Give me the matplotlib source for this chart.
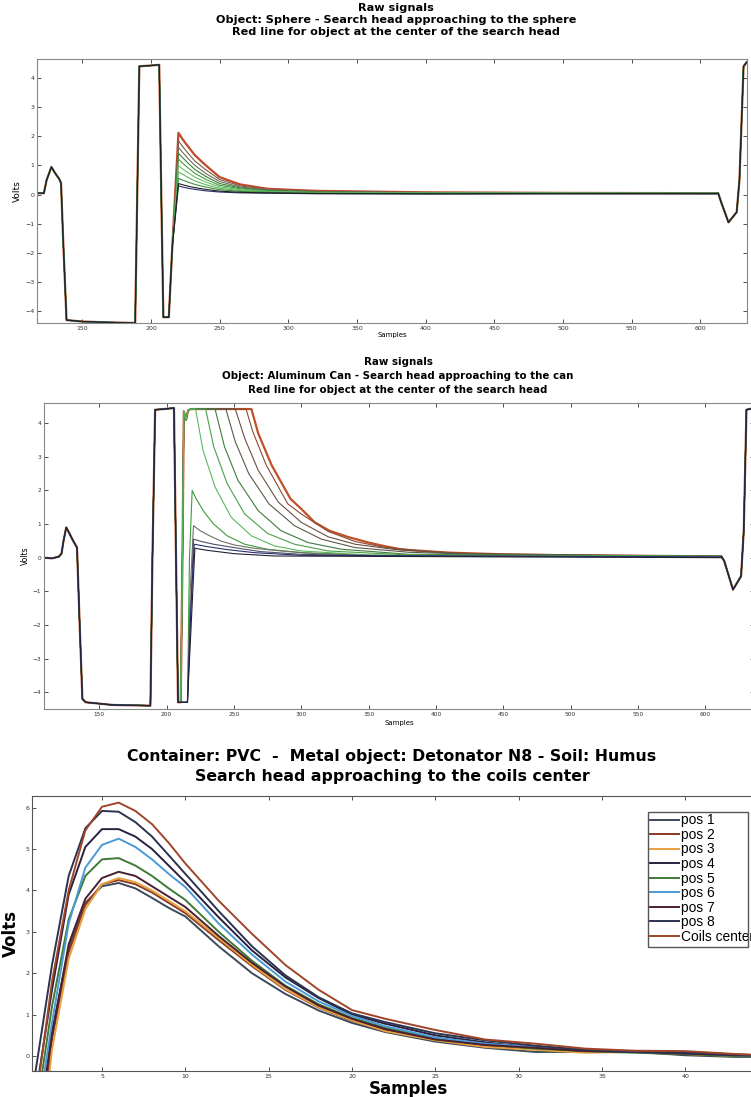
import matplotlib
matplotlib.use("Agg")
import matplotlib.pyplot as plt
from matplotlib.patches import Rectangle

# ---------- top panel: sphere ----------
top_head_x = [117, 122, 124, 127.5, 130, 133, 134.5, 136, 138.5, 150, 170, 188.5, 190, 191.5, 198, 206, 207.5, 209, 213]
top_head_y = [0.05, 0.05, 0.5, 0.95, 0.75, 0.55, 0.4, -1.5, -4.3, -4.35, -4.38, -4.4, 0.0, 4.4, 4.42, 4.45, 0.0, -4.2, -4.2]
top_tail_x = [215.5, 220, 223, 227, 232, 240, 250, 265, 285, 320, 400, 500, 612]
# listed from the highest (red, object at the centre) to the lowest curve
top_tails = [
    [-1.8, 2.12, 1.90, 1.65, 1.35, 1.00, 0.60, 0.35, 0.20, 0.13, 0.08, 0.06, 0.05],
    [-1.8, 1.85, 1.65, 1.42, 1.15, 0.85, 0.52, 0.30, 0.18, 0.11, 0.07, 0.06, 0.05],
    [-1.8, 1.62, 1.45, 1.24, 1.00, 0.72, 0.45, 0.26, 0.16, 0.10, 0.07, 0.05, 0.05],
    [-1.8, 1.42, 1.27, 1.08, 0.86, 0.62, 0.38, 0.23, 0.14, 0.09, 0.06, 0.05, 0.05],
    [-1.8, 1.22, 1.08, 0.92, 0.73, 0.52, 0.32, 0.20, 0.12, 0.08, 0.06, 0.05, 0.05],
    [-1.8, 1.00, 0.88, 0.75, 0.60, 0.43, 0.27, 0.17, 0.11, 0.07, 0.05, 0.05, 0.04],
    [-1.8, 0.78, 0.70, 0.59, 0.47, 0.34, 0.22, 0.14, 0.09, 0.06, 0.05, 0.04, 0.04],
    [-1.8, 0.56, 0.50, 0.43, 0.35, 0.26, 0.17, 0.11, 0.08, 0.05, 0.04, 0.04, 0.04],
    [-1.8, 0.30, 0.26, 0.22, 0.18, 0.13, 0.09, 0.06, 0.05, 0.03, 0.02, 0.03, 0.03],
    [-1.8, 0.38, 0.34, 0.29, 0.24, 0.18, 0.12, 0.08, 0.06, 0.04, 0.03, 0.03, 0.03],
]
top_colors = ['#c04a2a', '#7a5a48', '#6e6e5e', '#3a7f3a', '#4a9a4a', '#6abf69', '#5cb85c',
              '#3f8f3f', '#28306e', '#202020']
top_end_x = [613, 615.5, 620.5, 626.5, 628.5, 631.5, 634]
top_end_y = [0.05, -0.3, -0.95, -0.6, 0.5, 4.4, 4.55]

# ---------- middle panel: aluminum can ----------
mid_head_x = [109, 115, 120, 122, 123.5, 125.5, 127.5, 130, 133.5, 135.5, 137.5, 140, 160, 188, 189.5,
              191.5, 198, 205.5, 207, 208.5, 210.5]
mid_head_y = [0.0, -0.02, 0.03, 0.12, 0.5, 0.9, 0.75, 0.55, 0.3, -2.0, -4.2, -4.3, -4.38, -4.4, 0.0,
              4.4, 4.42, 4.45, 0.0, -4.3, -4.3]
sat_x = [211.8, 212.8, 214.5, 216, 218]
sat_y = [0.0, 4.35, 4.1, 4.38, 4.42]
# (x, y, saturating?) from the red curve down to the lowest one
mid_tails = [
    ([263, 268, 278, 292, 300, 310, 321, 336, 350, 361, 375, 410, 450, 500, 612],
     [4.42, 3.7, 2.75, 1.75, 1.45, 1.05, 0.8, 0.6, 0.45, 0.35, 0.24, 0.15, 0.1, 0.07, 0.04], True),
    ([259, 264, 274, 290, 300, 320, 340, 360, 400, 450, 612],
     [4.42, 3.75, 2.75, 1.6, 1.3, 0.78, 0.48, 0.32, 0.16, 0.09, 0.04], True),
    ([251, 258, 268, 283, 300, 320, 340, 370, 420, 612], [4.42, 3.55, 2.6, 1.65, 1.05, 0.62, 0.4, 0.24, 0.12, 0.04], True),
    ([244, 251, 261, 276, 295, 315, 340, 380, 450, 612], [4.42, 3.45, 2.5, 1.6, 0.95, 0.55, 0.3, 0.16, 0.08, 0.04], True),
    ([236, 243, 253, 268, 285, 305, 330, 380, 612], [4.42, 3.3, 2.3, 1.4, 0.8, 0.45, 0.25, 0.1, 0.04], True),
    ([229, 235, 245, 258, 275, 295, 320, 380, 612], [4.42, 3.3, 2.2, 1.3, 0.72, 0.4, 0.2, 0.08, 0.04], True),
    ([221.5, 227, 236, 248, 263, 280, 300, 350, 612], [4.42, 3.2, 2.1, 1.2, 0.65, 0.35, 0.2, 0.08, 0.03], True),
    ([215.5, 217, 219, 222, 228, 235, 245, 258, 275, 300, 350, 612],
     [-4.3, 0.0, 2.0, 1.75, 1.35, 1.0, 0.65, 0.4, 0.25, 0.15, 0.07, 0.03], False),
    ([215.5, 217.5, 220, 225, 232, 240, 250, 265, 285, 310, 360, 612],
     [-4.3, -1.0, 0.95, 0.8, 0.65, 0.5, 0.38, 0.28, 0.2, 0.12, 0.06, 0.02], False),
    ([215.5, 218, 220, 226, 235, 250, 270, 300, 360, 612], [-4.3, -1.5, 0.55, 0.48, 0.4, 0.3, 0.18, 0.1, 0.04, 0.02], False),
    ([215.5, 218, 220.5, 230, 245, 265, 300, 612], [-4.3, -1.5, 0.40, 0.33, 0.24, 0.15, 0.07, 0.02], False),
    ([215.5, 218.5, 221, 230, 250, 280, 612], [-4.3, -1.8, 0.28, 0.22, 0.12, 0.05, 0.0], False),
]
mid_colors = ['#c0502a', '#8a4a30', '#6a5040', '#5a5a4a', '#3f7a3f', '#4aa04a', '#5cb85c',
              '#3f9a3f', '#707068', '#50506a', '#2a3070', '#222233']
mid_end_x = [612, 614, 620.5, 626.5, 628.5, 630.5, 636]
mid_end_y = [0.03, -0.1, -0.95, -0.55, 0.8, 4.4, 4.45]

# ---------- bottom panel: detonator ----------
bot_x = [1, 2, 3, 4, 5, 6, 7, 8, 9, 10, 12, 14, 16, 18, 20, 22, 25, 28, 31, 34, 37, 40, 43, 46]
bot_labels = ['pos 1', 'pos 2', 'pos 3', 'pos 4', 'pos 5', 'pos 6', 'pos 7', 'pos 8', 'Coils center']
bot_series = [
    [-2.5, 0.6, 2.6, 3.7, 4.1, 4.18, 4.05, 3.82, 3.58, 3.37, 2.65, 2.0, 1.5, 1.1, 0.8, 0.58, 0.35, 0.2, 0.1, 0.1, 0.1, 0.02, -0.02, -0.03],
    [-3.0, 0.4, 2.5, 3.65, 4.15, 4.25, 4.15, 3.95, 3.7, 3.45, 2.8, 2.17, 1.6, 1.17, 0.85, 0.62, 0.4, 0.25, 0.17, 0.1, 0.1, 0.08, 0.03, 0.0],
    [-3.5, 0.15, 2.35, 3.55, 4.15, 4.3, 4.2, 4.0, 3.75, 3.5, 2.85, 2.2, 1.62, 1.18, 0.86, 0.6, 0.38, 0.22, 0.15, 0.08, 0.1, 0.05, 0.0, -0.02],
    [-1.0, 1.6, 3.9, 5.05, 5.48, 5.48, 5.3, 5.0, 4.6, 4.2, 3.35, 2.55, 1.9, 1.4, 1.0, 0.78, 0.5, 0.33, 0.2, 0.13, 0.12, 0.1, 0.04, 0.0],
    [-1.5, 1.2, 3.3, 4.35, 4.75, 4.78, 4.6, 4.35, 4.05, 3.77, 3.0, 2.3, 1.7, 1.25, 0.92, 0.68, 0.42, 0.28, 0.18, 0.12, 0.08, 0.05, 0.0, -0.03],
    [-1.8, 0.8, 3.2, 4.55, 5.1, 5.25, 5.05, 4.75, 4.4, 4.08, 3.2, 2.45, 1.8, 1.32, 0.97, 0.72, 0.45, 0.3, 0.22, 0.15, 0.1, 0.07, 0.02, -0.02],
    [-2.2, 0.5, 2.7, 3.8, 4.3, 4.45, 4.35, 4.1, 3.85, 3.6, 2.9, 2.25, 1.68, 1.22, 0.9, 0.65, 0.4, 0.27, 0.2, 0.12, 0.1, 0.06, 0.02, 0.0],
    [-0.4, 2.2, 4.35, 5.5, 5.92, 5.9, 5.65, 5.3, 4.85, 4.4, 3.5, 2.65, 1.95, 1.42, 1.03, 0.82, 0.55, 0.38, 0.25, 0.15, 0.1, 0.08, 0.03, 0.0],
    [-1.2, 1.8, 4.0, 5.45, 6.02, 6.12, 5.92, 5.6, 5.15, 4.65, 3.75, 2.95, 2.2, 1.6, 1.11, 0.9, 0.63, 0.4, 0.3, 0.18, 0.13, 0.12, 0.05, 0.0],
]
bot_colors = ['#3b4a5a', '#8b3a20', '#e8a040', '#2a2040', '#3e7a35', '#4a9ad8', '#4a2030', '#2a3350', '#a0452a']

W, H = 751, 1097
fig = plt.figure(figsize=(W / 100, H / 100), dpi=100)


def fx(px):
    return px / W


def fy(py):
    return 1 - py / H


def style_axes(ax, frame_color, labelsize):
    for s in ax.spines.values():
        s.set_color(frame_color)
        s.set_linewidth(0.8)
    ax.tick_params(direction='in', length=3, width=0.6, top=True, right=True,
                   labelsize=labelsize, pad=2, colors='#333333')


# top
ax1 = fig.add_axes([fx(37), fy(323), fx(747) - fx(37), fy(59) - fy(323)])
for tail, c in zip(top_tails, top_colors):
    xs = top_head_x + top_tail_x + top_end_x
    ys = top_head_y + tail + top_end_y
    lw = 1.6 if c == '#c04a2a' else 0.8
    ax1.plot(xs, ys, color=c, lw=lw)
ax1.set_xlim(117, 634)
ax1.set_ylim(-4.4, 4.65)
ax1.set_xticks(range(150, 601, 50))
ax1.set_yticks(range(-4, 5))
style_axes(ax1, '#888888', 4.5)
ax1.set_ylabel('Volts', fontsize=6.5, labelpad=2)
ax1.set_xlabel('Samples', fontsize=5, labelpad=1)
top_title = ['Raw signals',
             'Object: Sphere - Search head approaching to the sphere',
             'Red line for object at the center of the search head']
for line, py in zip(top_title, [8, 20, 32]):
    fig.text(fx(396), fy(py), line, ha='center', va='center', fontsize=8.1, fontweight='bold')

# middle
ax2 = fig.add_axes([fx(44), fy(709), (636 - 109) * 1.347 / W, fy(403) - fy(709)])
for (tx, ty, sat), c in zip(mid_tails, mid_colors):
    if sat:
        xs = mid_head_x + sat_x + tx + mid_end_x
        ys = mid_head_y + sat_y + ty + mid_end_y
    else:
        xs = mid_head_x + tx + mid_end_x
        ys = mid_head_y + ty + mid_end_y
    lw = 1.6 if c == '#c0502a' else 0.8
    ax2.plot(xs, ys, color=c, lw=lw)
ax2.set_xlim(109, 636)
ax2.set_ylim(-4.5, 4.6)
ax2.set_xticks(range(150, 601, 50))
ax2.set_yticks(range(-4, 5))
style_axes(ax2, '#888888', 4.2)
ax2.set_ylabel('Volts', fontsize=5.5, labelpad=2)
ax2.set_xlabel('Samples', fontsize=5, labelpad=2)
mid_title = ['Raw signals',
             'Object: Aluminum Can - Search head approaching to the can',
             'Red line for object at the center of the search head']
for line, py in zip(mid_title, [362, 376, 390]):
    fig.text(fx(398), fy(py), line, ha='center', va='center', fontsize=7.4, fontweight='bold')

# bottom
ax3 = fig.add_axes([fx(32), fy(1071), (46 - 0.8) * 16.67 / W, fy(796) - fy(1071)])
handles = []
for ys, c, lab in zip(bot_series, bot_colors, bot_labels):
    h, = ax3.plot(bot_x, ys, color=c, lw=1.4, label=lab)
    handles.append(h)
ax3.set_xlim(0.8, 46)
ax3.set_ylim(-0.36, 6.28)
ax3.set_xticks(range(5, 41, 5))
ax3.set_yticks(range(0, 7))
style_axes(ax3, '#555555', 4.5)
ax3.set_ylabel('Volts', fontsize=12, fontweight='bold', labelpad=4)
ax3.set_xlabel('Samples', fontsize=12, fontweight='bold', labelpad=1)
fig.text(fx(392), fy(757), 'Container: PVC  -  Metal object: Detonator N8 - Soil: Humus',
         ha='center', va='center', fontsize=11.3, fontweight='bold')
fig.text(fx(392), fy(777), 'Search head approaching to the coils center',
         ha='center', va='center', fontsize=11.3, fontweight='bold')

leg = ax3.legend(handles=handles, loc='upper left', bbox_to_anchor=(fx(649), fy(812)),
                 bbox_transform=fig.transFigure, frameon=False,
                 prop={'family': 'Liberation Sans', 'size': 9.9},
                 handlelength=2.1, handletextpad=0.1, labelspacing=0.04,
                 borderaxespad=0, borderpad=0.1)
fig.patches.append(Rectangle((fx(648), fy(947)), fx(748) - fx(648), fy(812) - fy(947),
                             transform=fig.transFigure, fill=False, edgecolor='#555555',
                             lw=1.0, zorder=5))

fig.savefig('out.png', dpi=100)
